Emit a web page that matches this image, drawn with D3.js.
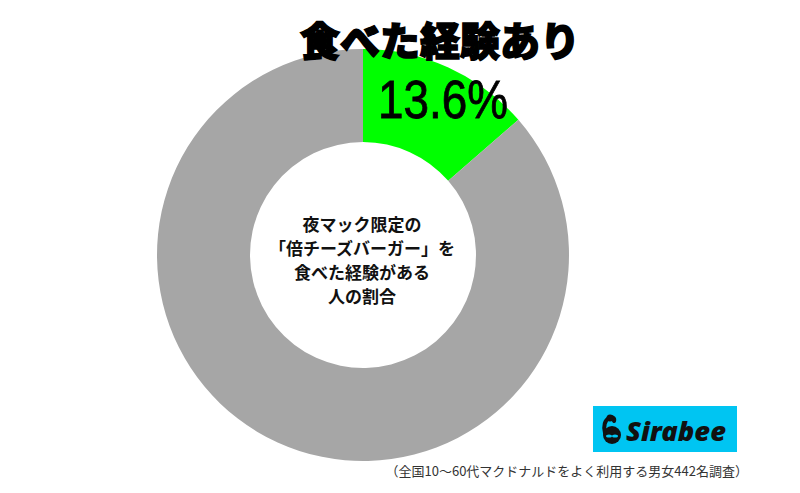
<!DOCTYPE html>
<html><head><meta charset="utf-8">
<script src="https://cdn.jsdelivr.net/npm/d3@7"></script>
<style>html,body{margin:0;padding:0;background:#fff;}</style>
</head><body>
<script>
const categories = ["食べた経験あり", "食べた経験なし"];
const values = [13.6, 86.4];
const colors = ["#00FF00", "#A6A6A6"];
const titleText = "食べた経験あり";
const valueLabel = "13.6%";
const centerLines = ["夜マック限定の", "「倍チーズバーガー」を", "食べた経験がある", "人の割合"];
const footnote = "（全国10〜60代マクドナルドをよく利用する男女442名調査）";

const W = 800, H = 493;
const svg = d3.select("body").append("svg").attr("width", W).attr("height", H);
const cx = 363, cy = 255, R = 206, r = 113;

const pie = d3.pie().sort(null).value(d => d)(values);
const arc = d3.arc().innerRadius(r).outerRadius(R);
const g = svg.append("g").attr("transform", `translate(${cx},${cy})`);
g.selectAll("path").data(pie).join("path")
  .attr("d", arc).attr("fill", (d, i) => colors[i]);

// Title
svg.append("text").attr("x", 440).attr("y", 56).attr("text-anchor", "middle")
  .attr("font-family", "'Noto Sans CJK JP'").attr("font-weight", 900)
  .attr("font-size", 40).attr("fill", "#000").attr("stroke", "#000").attr("stroke-width", 1.5)
  .attr("textLength", 280).attr("lengthAdjust", "spacingAndGlyphs")
  .text(titleText);

// Value label
svg.append("text").attr("x", 443).attr("y", 118).attr("text-anchor", "middle")
  .attr("font-family", "'Liberation Sans', Arial").attr("font-size", 53).attr("fill", "#000")
  .attr("stroke", "#000").attr("stroke-width", 0.8)
  .attr("textLength", 130).attr("lengthAdjust", "spacingAndGlyphs")
  .text(valueLabel);

// Center text
const ct = svg.append("text").attr("text-anchor", "middle")
  .attr("font-family", "'Noto Sans CJK JP'").attr("font-weight", 700)
  .attr("font-size", 17).attr("fill", "#111");
centerLines.forEach((t, i) => {
  ct.append("tspan").attr("x", 362).attr("y", 231 + i * 24).text(t);
});

// Footnote
svg.append("text").attr("x", 748).attr("y", 476).attr("text-anchor", "end")
  .attr("font-family", "'Noto Sans CJK JP'").attr("font-size", 13).attr("fill", "#333")
  .text(footnote);

// Logo
const lg = svg.append("g").attr("transform", "translate(593,406)");
lg.append("rect").attr("width", 144).attr("height", 46).attr("fill", "#00C5F2");
lg.append("circle").attr("cx", 19).attr("cy", 29).attr("r", 9).attr("fill", "#111");
lg.append("path").attr("d", "M12,27 C10,20 12,14 16,12 C19,10 22,12 21,15").attr("fill", "none")
  .attr("stroke", "#111").attr("stroke-width", 4).attr("stroke-linecap", "round");
lg.append("circle").attr("cx", 17).attr("cy", 12).attr("r", 3.5).attr("fill", "#111");
lg.append("ellipse").attr("cx", 16).attr("cy", 30).attr("rx", 3).attr("ry", 1.6).attr("fill", "#00C5F2");
lg.append("ellipse").attr("cx", 22).attr("cy", 30).attr("rx", 3).attr("ry", 1.6).attr("fill", "#00C5F2");
lg.append("text").attr("x", 33).attr("y", 35).attr("font-family", "'Noto Sans', Roboto")
  .attr("font-weight", 900).attr("font-style", "italic").attr("font-size", 26).attr("fill", "#111")
  .attr("textLength", 100).attr("lengthAdjust", "spacingAndGlyphs")
  .text("Sirabee");
</script>
</body></html>
